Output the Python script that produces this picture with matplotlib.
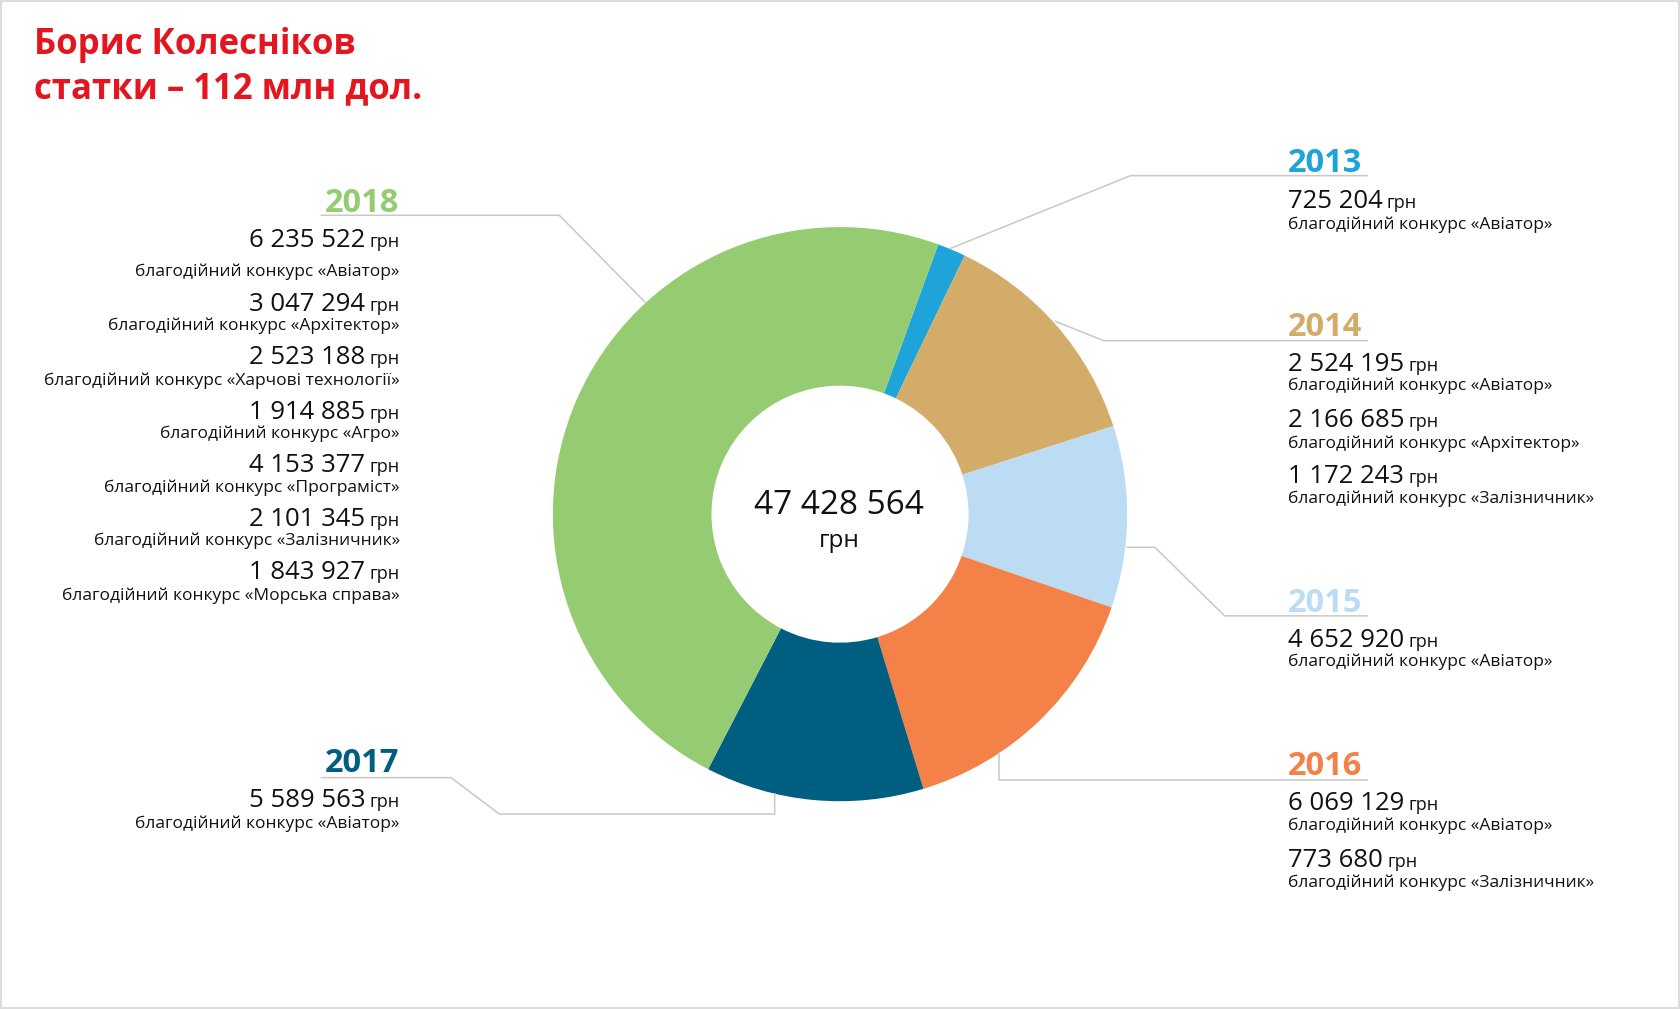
import matplotlib.pyplot as plt
from matplotlib.patches import Rectangle

plt.rcParams['font.family'] = ['Open Sans', 'DejaVu Sans']

# data: amounts per year (грн) and contest names
years = ['2013', '2014', '2015', '2016', '2017', '2018']
colors = ['#1fa4da', '#d4ac69', '#bcdcf4', '#f38148', '#005f80', '#95cb71']

amounts_2013 = [725204]
names_2013 = ['«Авіатор»']
amounts_2014 = [2524195, 2166685, 1172243]
names_2014 = ['«Авіатор»', '«Архітектор»', '«Залізничник»']
amounts_2015 = [4652920]
names_2015 = ['«Авіатор»']
amounts_2016 = [6069129, 773680]
names_2016 = ['«Авіатор»', '«Залізничник»']
amounts_2017 = [5589563]
names_2017 = ['«Авіатор»']
amounts_2018 = [6235522, 3047294, 2523188, 1914885, 4153377, 2101345, 1843927]
names_2018 = ['«Авіатор»', '«Архітектор»', '«Харчові технології»', '«Агро»',
              '«Програміст»', '«Залізничник»', '«Морська справа»']

total_label = '47 428 564'
title = 'Борис Колесніков\nстатки – 112 млн дол.'

all_amounts = [amounts_2013, amounts_2014, amounts_2015, amounts_2016, amounts_2017, amounts_2018]
all_names = [names_2013, names_2014, names_2015, names_2016, names_2017, names_2018]
totals = [sum(a) for a in all_amounts]

W, H = 1568, 942
fig = plt.figure(figsize=(16.8, 10.09), dpi=100)
ax = fig.add_axes([0, 0, 1, 1])
ax.set_autoscale_on(False)
ax.set_xlim(0, W)
ax.set_ylim(H, 0)

# donut (y axis is inverted, so counterclock here runs clockwise on screen)
ax.pie(totals, colors=colors, center=(784, 480), radius=268, startangle=-70,
       counterclock=True, frame=True, wedgeprops=dict(width=148, linewidth=0))
ax.set_xlim(0, W)
ax.set_ylim(H, 0)
ax.set_aspect('auto')
ax.axis('off')

ax.text(783, 480, total_label, ha='center', va='baseline', fontsize=24, color='#111111')
ax.text(783, 511, 'грн', ha='center', va='baseline', fontsize=17.5, color='#111111')

ax.text(32, 50, title.split('\n')[0], ha='left', va='baseline', fontsize=25,
        fontweight='bold', color='#e3161f')
ax.text(32, 92, title.split('\n')[1], ha='left', va='baseline', fontsize=25,
        fontweight='bold', color='#e3161f')

# leader lines
line_c = '#c8c8c8'
leaders = [
    [(887, 232), (1055, 164), (1276, 164)],
    [(985, 300), (1030, 318), (1276, 318)],
    [(1052, 511), (1078, 511), (1143, 575), (1276, 575)],
    [(932, 703), (932, 728), (1276, 728)],
    [(723, 741), (723, 760), (466, 760), (421, 726), (300, 726)],
    [(602, 282), (522, 201), (300, 201)],
]
for pts in leaders:
    ax.plot([p[0] for p in pts], [p[1] for p in pts], color=line_c, lw=1.1)

# label blocks: x, side, year baseline, number baselines, description baselines
blocks = [
    (1202, 'left', 161, [194], [214]),
    (1202, 'left', 314, [346, 399, 451], [364, 418, 470]),
    (1202, 'left', 571, [604], [622]),
    (1202, 'left', 724, [756, 809], [775, 828]),
    (373, 'right', 721, [753], [773]),
    (373, 'right', 198, [231, 290, 340, 391, 441, 491, 541], [258, 308, 359, 409, 459, 509, 560]),
]

fig.canvas.draw()
rend = fig.canvas.get_renderer()


def data_width(t):
    bb = t.get_window_extent(rend)
    inv = ax.transData.inverted()
    x0 = inv.transform((bb.x0, bb.y0))[0]
    x1 = inv.transform((bb.x1, bb.y0))[0]
    return abs(x1 - x0)


for i, (x, side, yy, num_ys, desc_ys) in enumerate(blocks):
    ax.text(x, yy, years[i], ha=side, va='baseline', fontsize=23.5, fontweight='bold',
            color=colors[i])
    for v, name, ny, dy in zip(all_amounts[i], all_names[i], num_ys, desc_ys):
        s = f'{v:,}'.replace(',', ' ')
        if side == 'left':
            t = ax.text(x, ny, s, ha='left', va='baseline', fontsize=18.5, color='#111111')
            w = data_width(t)
            ax.text(x + w + 4, ny, 'грн', ha='left', va='baseline', fontsize=13, color='#111111')
        else:
            g = ax.text(x, ny, 'грн', ha='right', va='baseline', fontsize=13, color='#111111')
            w = data_width(g)
            ax.text(x - w - 4, ny, s, ha='right', va='baseline', fontsize=18.5, color='#111111')
        ax.text(x, dy, 'благодійний конкурс ' + name, ha=side, va='baseline',
                fontsize=12.5, color='#111111')

ax.add_patch(Rectangle((0.5, 0.5), W - 1, H - 1, fill=False, edgecolor='#dcdcdc', lw=1.5))

fig.savefig('out.png', dpi=100)
